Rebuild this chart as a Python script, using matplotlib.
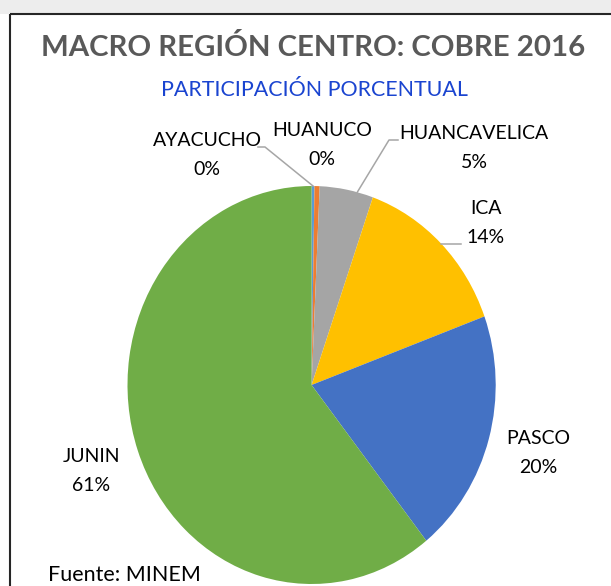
import numpy as np
import matplotlib.pyplot as plt
from matplotlib.patches import Rectangle

# datos (participación porcentual, cobre 2016)
regiones = ["AYACUCHO", "HUANUCO", "HUANCAVELICA", "ICA", "PASCO", "JUNIN"]
valores = [0.25, 0.45, 4.7, 14.0, 19.9, 60.7]
etiquetas_pct = ["0%", "0%", "5%", "14%", "20%", "61%"]
colores = ["#5B9BD5", "#ED7D31", "#A5A5A5", "#FFC000", "#4472C4", "#70AD47"]

W, H = 611, 586
fig = plt.figure(figsize=(W / 100, H / 100), dpi=100)
fig.patch.set_facecolor("white")

# capa en pixeles para textos, marco y lineas guia
lay = fig.add_axes([0, 0, 1, 1], zorder=3)
lay.set_xlim(0, W)
lay.set_ylim(H, 0)
lay.axis("off")
lay.patch.set_alpha(0)

# fondo gris arriba del marco
fig.patches.append(Rectangle((0, 1 - 14 / H), 1, 14 / H, transform=fig.transFigure,
                             facecolor="#EDEDED", edgecolor="none", zorder=0))

# pie (elipse ligeramente alargada como en el original)
cx0, cx1 = 127.5, 495.7
cy0, cy1 = 186, 584
ax = fig.add_axes([cx0 / W, (H - cy1) / H, (cx1 - cx0) / W, (cy1 - cy0) / H], zorder=2)
wedges, _ = ax.pie(valores, colors=colores, startangle=90, counterclock=False,
                   wedgeprops=dict(linewidth=0))
ax.set_aspect("auto")
ax.set_xlim(-1, 1)
ax.set_ylim(-1, 1)

def to_px(x, y):
    disp = ax.transData.transform((x, y))
    return lay.transData.inverted().transform(disp)

fs = 14
txt = dict(fontsize=fs, family="Lato", color="black", ha="center", va="center", linespacing=1.85)

# posiciones de etiquetas (px)
pos_lab = [(207, 155), (322, 145), (474, 148), (486, 223), (538, 453), (91, 471)]
for reg, pct, (px, py) in zip(regiones, etiquetas_pct, pos_lab):
    lay.text(px, py, reg + "\n" + pct, **txt)

# lineas guia
gris = "#A6A6A6"
def guia(i, start, codo, frac=0.5):
    w = wedges[i]
    ang = np.deg2rad(w.theta1 + (w.theta2 - w.theta1) * frac)
    ex, ey = to_px(np.cos(ang), np.sin(ang))
    xs = [start[0], codo[0], ex]
    ys = [start[1], codo[1], ey]
    lay.plot(xs, ys, color=gris, lw=1.1, zorder=4)

guia(0, (258, 147), (265, 147))
guia(2, (398, 140), (389, 140), frac=0.3)
lay.plot([441, 461], [244, 244], color=gris, lw=1.1)

# titulo y subtitulo
lay.text(313, 48, "MACRO REGIÓN CENTRO: COBRE 2016", fontsize=21.2, family="Lato",
         fontweight="bold", color="#595959", ha="center", va="center")
lay.text(314, 90, "PARTICIPACIÓN PORCENTUAL", fontsize=15.4, family="Lato",
         color="#1A44D0", ha="center", va="center")
lay.text(48, 575, "Fuente: MINEM", fontsize=15.5, family="Lato", color="black",
         ha="left", va="center")

# marco del grafico
lay.add_patch(Rectangle((10, 14), 700, 700, fill=False, edgecolor="#262626", lw=1.5))

fig.savefig("out.png", dpi=100)
